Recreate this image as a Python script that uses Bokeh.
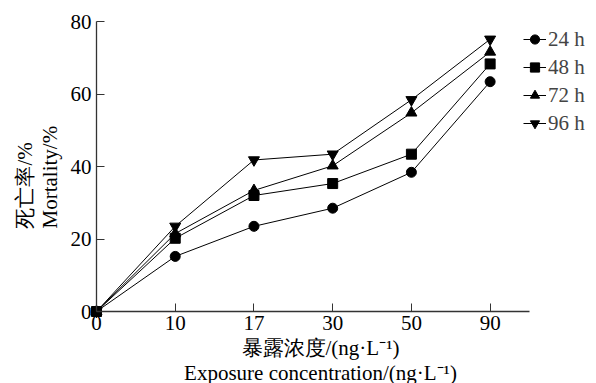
import math
from bokeh.plotting import figure
from bokeh.models import Range1d, FixedTicker, Label, Legend, LegendItem
from bokeh.embed import file_html
from bokeh.resources import INLINE

conc = ["0", "10", "17", "30", "50", "90"]
m24 = [0, 15.2, 23.5, 28.5, 38.4, 63.4]
m48 = [0, 20.2, 32.0, 35.3, 43.4, 68.3]
m72 = [0, 21.5, 33.4, 40.2, 54.8, 71.6]
m96 = [0, 23.5, 41.8, 43.4, 58.4, 75.1]
series_names = ["24 h", "48 h", "72 h", "96 h"]
markers = ["circle", "square", "triangle", "inverted_triangle"]
yticks = [0, 20, 40, 60, 80]
ylabel_cn = "死亡率/%"
ylabel_en = "Mortality/%"
xlabel_cn = "暴露浓度/(ng·L⁻¹)"
xlabel_en = "Exposure concentration/(ng·L⁻¹)"

FONT = "Liberation Serif"
CJKFONT = "Liberation Serif"
FS = "21px"

W, H = 596, 383
OFF = 0
AX_LEFT, AX_RIGHT = 96, 529      # x=0 and x end of axis (page px)
AX_TOP, AX_BOTTOM = 21, 311      # y=80 and y=0
x_end = 5.5
y_end = 80
pxx = (AX_RIGHT - AX_LEFT) / x_end
pxy = (AX_BOTTOM - AX_TOP) / y_end
x0 = -(AX_LEFT - OFF) / pxx
x1 = x0 + W / pxx
y1 = y_end + (AX_TOP - OFF) / pxy
y0 = y1 - H / pxy

p = figure(width=W, height=H, output_backend="svg", toolbar_location=None,
           x_range=Range1d(x0, x1), y_range=Range1d(y0, y1),
           min_border_left=0, min_border_top=0, min_border_right=0,
           min_border_bottom=0)
p.outline_line_color = None
p.grid.visible = False
p.background_fill_color = "white"
p.border_fill_color = "white"

xs = list(range(len(conc)))
for ax in (p.xaxis[0], p.yaxis[0]):
    ax.fixed_location = 0
    ax.axis_line_color = "#333333"
    ax.axis_line_width = 1.3
    ax.major_tick_line_color = "#333333"
    ax.major_tick_in = 8
    ax.major_tick_out = 0
    ax.minor_tick_line_color = None
    ax.major_label_text_font = FONT
    ax.major_label_text_font_size = FS
    ax.major_label_text_color = "black"
p.xaxis[0].bounds = (0, x_end)
p.yaxis[0].bounds = (0, y_end)
p.xaxis[0].ticker = FixedTicker(ticks=xs)
p.xaxis[0].major_label_overrides = {i: c for i, c in enumerate(conc)}
p.xaxis[0].major_label_standoff = 4
p.yaxis[0].ticker = FixedTicker(ticks=yticks)
p.yaxis[0].major_label_standoff = 5

items = []
for name, data, mk in zip(series_names, [m24, m48, m72, m96], markers):
    ln = p.line(xs, data, line_color="black", line_width=1)
    sz = 10 if mk in ("circle", "square") else 11
    sc = p.scatter(xs, data, marker=mk, size=sz, fill_color="black", line_color="black")
    items.append(LegendItem(label=name, renderers=[ln, sc]))

def dx(page_x):
    return x0 + (page_x - OFF) / pxx

def dy(page_y):
    return y1 - (page_y - OFF) / pxy

legend = Legend(items=items, location=(523 - OFF, (OFF + H) - 137))
legend.label_text_font = FONT
legend.label_text_font_size = FS
legend.label_height = 28
legend.glyph_height = 28
legend.glyph_width = 23
legend.label_standoff = 2
legend.spacing = 0
legend.padding = 0
legend.margin = 0
legend.background_fill_alpha = 0
legend.border_line_alpha = 0
p.add_layout(legend)

for txt, px_, py_, ang, fnt, al in [
    (ylabel_cn, 24, 228, math.pi / 2, CJKFONT, "left"),
    (ylabel_en, 49, 228, math.pi / 2, FONT, "left"),
    (xlabel_cn, 320, 347, 0, CJKFONT, "center"),
    (xlabel_en, 320, 372, 0, FONT, "center"),
]:
    p.add_layout(Label(x=dx(px_), y=dy(py_), text=txt, angle=ang,
                       text_align=al, text_baseline="middle",
                       text_font=fnt, text_font_size=FS,
                       text_color="black"))

open("out.html", "w").write(file_html(p, INLINE))
